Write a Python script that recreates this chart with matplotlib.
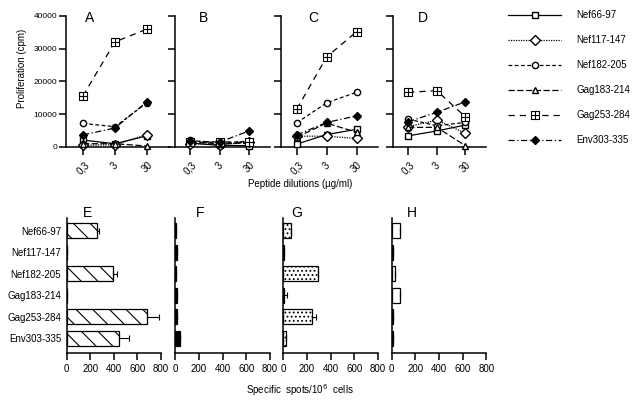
import matplotlib
matplotlib.use("Agg")
import matplotlib.pyplot as plt
import matplotlib.path as mpath
from matplotlib.lines import Line2D
import numpy as np

plt.rcParams["font.family"] = ["Liberation Sans", "DejaVu Sans"]
plt.rcParams["hatch.linewidth"] = 0.8

# ---- data -------------------------------------------------------------
doses = ["0,3", "3", "30"]
peptides = ["Nef66-97", "Nef117-147", "Nef182-205",
            "Gag183-214", "Gag253-284", "Env303-335"]

# proliferation (cpm), one row per peptide, columns = doses
prolif_A = [[2100, 1000, 3400],
            [500, 700, 3800],
            [7200, 6200, 13500],
            [1000, 1000, 300],
            [15600, 32100, 36000],
            [3700, 5800, 13800]]
prolif_B = [[1200, 500, 400],
            [1000, 700, 1500],
            [2000, 1200, 1800],
            [1500, 1000, 1200],
            [1500, 1600, 1400],
            [1800, 1500, 4900]]
prolif_C = [[900, 3800, 5400],
            [3300, 3300, 2600],
            [7400, 13500, 16700],
            [3000, 7300, 4500],
            [11600, 27500, 35200],
            [3700, 7500, 9500]]
prolif_D = [[3400, 4900, 6700],
            [6200, 8200, 4200],
            [8500, 6500, 7500],
            [6000, 6000, 400],
            [16700, 17200, 9200],
            [7700, 10600, 13800]]

# ELISPOT specific spots / 10^6 cells
spots_E = [255, 0, 390, 0, 685, 440]
err_E = [15, 0, 35, 0, 95, 85]
spots_F = [5, 15, 8, 15, 15, 45]
err_F = [0, 0, 0, 0, 0, 0]
spots_G = [65, 5, 296, 5, 240, 25]
err_G = [0, 0, 0, 25, 37, 0]
spots_H = [70, 10, 25, 70, 10, 10]
err_H = [0, 0, 0, 0, 0, 0]

# ---- styles -----------------------------------------------------------
W, H = 636, 400


def box(x, top, w, bottom):
    return [x / W, 1 - bottom / H, w / W, (bottom - top) / H]


# square with a cross inside
boxplus = mpath.Path(
    [(-1, -1), (1, -1), (1, 1), (-1, 1), (-1, -1),
     (0, -1), (0, 1), (-1, 0), (1, 0)],
    [1, 2, 2, 2, 79, 1, 2, 1, 2])

styles = [
    dict(ls="-", marker="s", ms=4.5, mfc="white"),
    dict(ls=(0, (1, 1)), marker="D", ms=5, mfc="white"),
    dict(ls=(0, (3, 2)), marker="o", ms=4.5, mfc="white"),
    dict(ls=(0, (5, 2)), marker="^", ms=4.5, mfc="white"),
    dict(ls=(0, (5, 4)), marker=boxplus, ms=5.5, mfc="white", mew=0.8),
    dict(ls=(0, (5, 2, 1, 2)), marker="D", ms=4, mfc="black"),
]

fig = plt.figure(figsize=(W / 100, H / 100), dpi=100)

# ---- top: proliferation -----------------------------------------------
top_panels = [("A", prolif_A, box(66, 16, 104, 147), 90),
              ("B", prolif_B, box(175, 16, 95, 147), 203),
              ("C", prolif_C, box(281, 16, 97, 147), 313),
              ("D", prolif_D, box(393, 16, 93, 147), 423)]

x = np.arange(len(doses))
for i, (letter, data, pos, lx) in enumerate(top_panels):
    ax = fig.add_axes(pos)
    for row, st in zip(data, styles):
        ax.plot(x, row, color="black", lw=0.9, mec="black", clip_on=False,
                zorder=3, **st)
    ax.set_xlim(-0.53, 2.72)
    ax.set_ylim(0, 40000)
    ax.set_yticks([0, 10000, 20000, 30000, 40000])
    ax.set_xticks(x)
    ax.set_xticklabels(doses, rotation=45, ha="center", fontsize=7)
    for s in ["top", "right"]:
        ax.spines[s].set_visible(False)
    ax.spines["left"].set_linewidth(1.1)
    ax.spines["bottom"].set_linewidth(1.1)
    ax.tick_params(axis="x", length=6, width=1.1, pad=3.5)
    ax.tick_params(axis="y", length=5, width=1.1, labelsize=6, pad=1.5)
    if i > 0:
        ax.set_yticklabels([])
    ax.patch.set_alpha(0)
    fig.text(lx / W, 1 - 18 / H, letter, fontsize=10, ha="center", va="center")

fig.text(22 / W, 1 - 68 / H, "Proliferation (cpm)", rotation=90,
         fontsize=7, ha="center", va="center")
fig.text(300 / W, 1 - 184 / H, "Peptide dilutions (\u00b5g/ml)",
         fontsize=7, ha="center", va="center")

handles = [Line2D([0], [0], color="black", lw=0.9, mec="black", **st)
           for st in styles]
fig.legend(handles, peptides, loc="upper left",
           bbox_to_anchor=(508 / W, 1 - 10 / H), frameon=False,
           fontsize=7, handlelength=5.5, handletextpad=1.5,
           labelspacing=1.55, borderpad=0, borderaxespad=0)

# ---- bottom: ELISPOT bars ---------------------------------------------
bot_panels = [("E", spots_E, err_E, box(66.7, 218, 94.3, 352.7), 88,
               dict(color="white", hatch="\\\\")),
              ("F", spots_F, err_F, box(175, 218, 95, 352.7), 200,
               dict(color="black")),
              ("G", spots_G, err_G, box(283.3, 218, 94.5, 352.7), 297,
               dict(color="white", hatch="....")),
              ("H", spots_H, err_H, box(391.7, 218, 94.5, 352.7), 412,
               dict(color="white"))]

y = np.arange(len(peptides))
for i, (letter, vals, errs, pos, lx, bst) in enumerate(bot_panels):
    ax = fig.add_axes(pos)
    ax.barh(y, vals, height=0.7, edgecolor="black", linewidth=0.9,
            xerr=[np.zeros(len(errs)), errs],
            error_kw=dict(ecolor="black", elinewidth=0.8, capsize=2.5,
                          capthick=0.8),
            **bst)
    ax.set_xlim(0, 800)
    ax.set_ylim(5.67, -0.58)
    ax.set_xticks([0, 200, 400, 600, 800])
    ax.set_yticks(y)
    if i == 0:
        ax.set_yticklabels(peptides, fontsize=7)
    else:
        ax.set_yticklabels([])
    for s in ["top", "right"]:
        ax.spines[s].set_visible(False)
    ax.spines["left"].set_linewidth(1.1)
    ax.spines["bottom"].set_linewidth(1.1)
    ax.tick_params(axis="y", length=0, pad=4)
    ax.tick_params(axis="x", length=5, width=1.1, labelsize=7, pad=3)
    ax.patch.set_alpha(0)
    fig.text(lx / W, 1 - 213 / H, letter, fontsize=10, ha="center",
             va="center")

fig.text(300 / W, 1 - 390 / H, "Specific  spots/10$^6$  cells",
         fontsize=7, ha="center", va="center")

fig.savefig("out.png", dpi=100)
